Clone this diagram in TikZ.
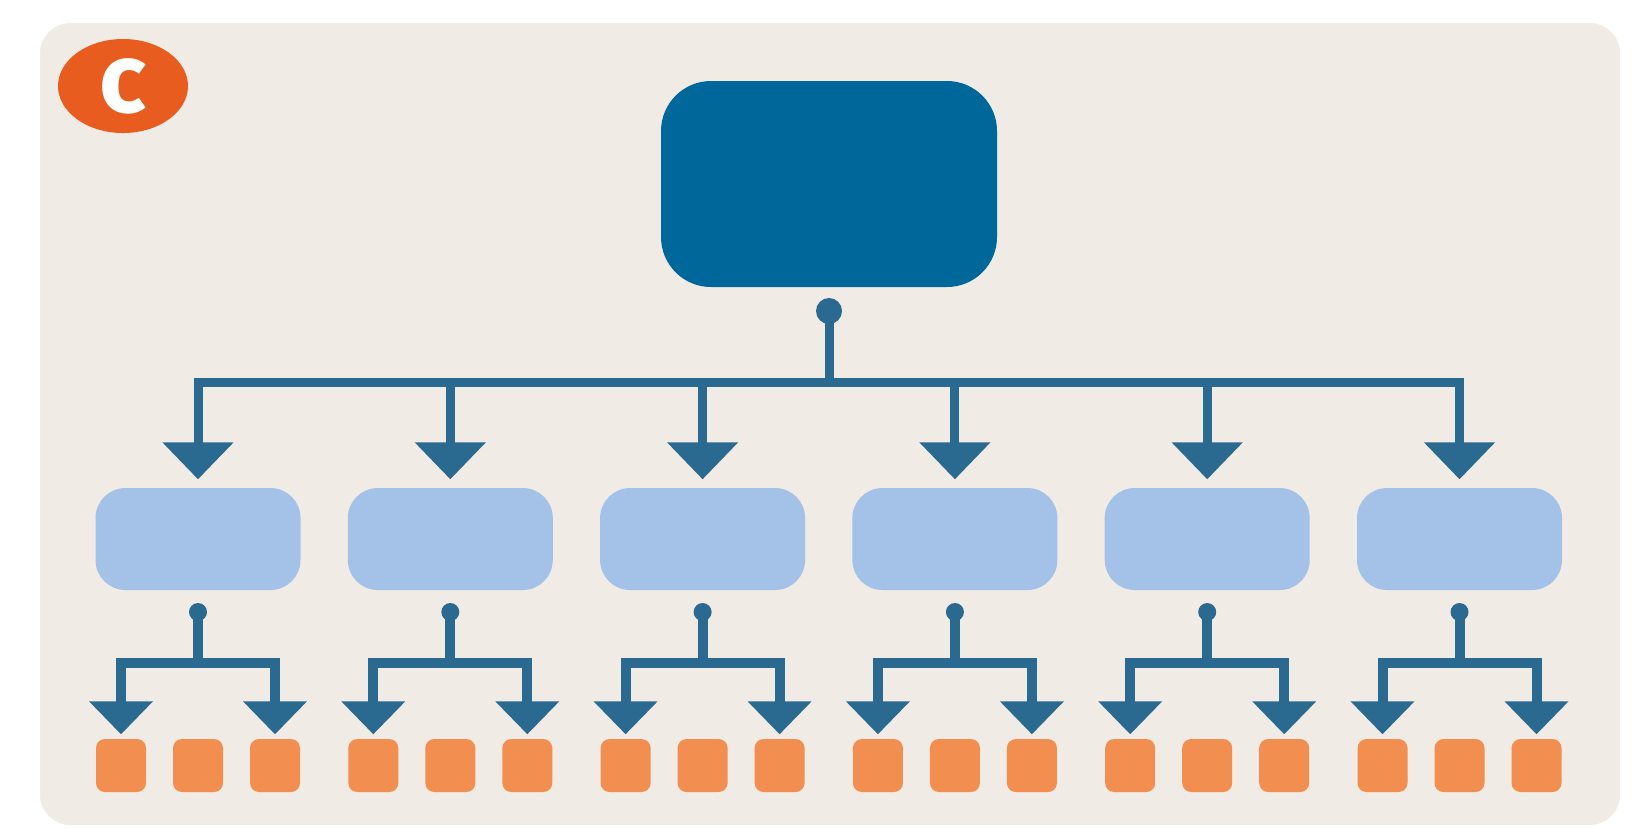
\documentclass[tikz,border=0pt]{standalone}
\usepackage{fontspec}
\setmainfont{Fira Sans}
\usetikzlibrary{arrows.meta,shapes.geometric}
\definecolor{panelbg}{RGB}{240,235,228}
\definecolor{topblue}{RGB}{0,103,155}
\definecolor{midblue}{RGB}{164,194,232}
\definecolor{sqorange}{RGB}{242,142,80}
\definecolor{badgeor}{RGB}{232,92,32}
\definecolor{linkblue}{RGB}{42,106,145}
\pagecolor{panelbg}
\tikzset{
  topbox/.style={fill=topblue, rounded corners=5mm, minimum width=33.6mm, minimum height=20.6mm, inner sep=0pt},
  midbox/.style={fill=midblue, rounded corners=3mm, minimum width=20.5mm, minimum height=10.2mm, inner sep=0pt},
  sqbox/.style={fill=sqorange, rounded corners=0.9mm, minimum width=5.0mm, minimum height=5.3mm, inner sep=0pt},
  bigdot/.style={circle, fill=linkblue, minimum size=2.6mm, inner sep=0pt},
  smalldot/.style={circle, fill=linkblue, minimum size=1.8mm, inner sep=0pt},
  conn/.style={draw=linkblue, line width=0.9mm},
  subconn/.style={draw=linkblue, line width=1.0mm},
  bigarrow/.style={conn, -{Triangle[width=6.9mm,length=3.7mm]}, shorten >=0.8mm},
  smallarrow/.style={subconn, -{Triangle[width=6.2mm,length=3.3mm]}, shorten >=0.4mm},
}
\begin{document}
\begin{tikzpicture}
\useasboundingbox (0,-8.27) rectangle (16.49,0);
% white margin round the panel (the panel itself is the page colour)
\fill[white, even odd rule] (0,-8.27) -- (16.49,-8.27) -- (16.49,0) -- (0,0) -- cycle
  [rounded corners=3mm] (0.40,-8.25) rectangle (16.20,-0.23);
% badge
\node[ellipse, fill=badgeor, minimum width=13mm, minimum height=9.4mm, inner sep=0pt,
      font=\bfseries\fontsize{28pt}{28pt}\selectfont, text=white] (badge) at (1.23,-0.86) {c};
% top box
\node[topbox] (top) at (8.29,-1.84) {};
\node[bigdot] (topdot) at (8.29,-3.11) {};
\coordinate (bus) at (8.29,-3.82);
\draw[conn] (topdot.center) -- (bus);
\foreach \i in {0,...,5}{
  \pgfmathsetmacro{\cx}{1.98+2.523*\i}
  \node[midbox] (mid\i) at (\cx,-5.39) {};
  \node[sqbox] (sqa\i) at (\cx-0.77,-7.655) {};
  \node[sqbox] (sqb\i) at (\cx,-7.655) {};
  \node[sqbox] (sqc\i) at (\cx+0.77,-7.655) {};
  \node[smalldot] (dot\i) at (\cx,-6.12) {};
  \coordinate (sbus\i) at (\cx,-6.63);
  \draw[bigarrow] (bus) -| (mid\i.north);
  \draw[subconn] (dot\i.center) -- (sbus\i);
  \draw[smallarrow] (sbus\i) -| (sqa\i.north);
  \draw[smallarrow] (sbus\i) -| (sqc\i.north);
}
\end{tikzpicture}
\end{document}
